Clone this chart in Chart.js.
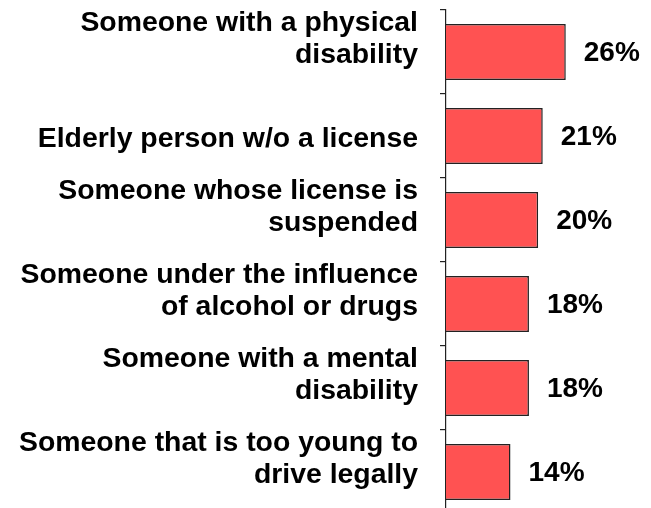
<!DOCTYPE html>
<html>
<head>
<meta charset="utf-8">
<script src="https://cdn.jsdelivr.net/npm/chart.js@4"></script>
<style>
  html, body { margin: 0; padding: 0; background: #fff; overflow: hidden; }
  #wrap { width: 651px; height: 516px; }
</style>
</head>
<body>
<div id="wrap"><canvas id="groupChart" width="651" height="516"></canvas></div>
<script>
const categories = [
    ['Someone with a physical', 'disability'],
    'Elderly person w/o a license',
    ['Someone whose license is', 'suspended'],
    ['Someone under the influence', 'of alcohol or drugs'],
    ['Someone with a mental', 'disability'],
    ['Someone that is too young to', 'drive legally']
];
const percentages = [26, 21, 20, 18, 18, 14];

const fontFamily = '"Liberation Sans", Arial, sans-serif';

// two-line labels sit a bit above the bar centre in the original,
// a blank third line pushes them up
const axisLabels = categories.map(c => Array.isArray(c) ? c.concat(['']) : c);

// draws the "26%" style labels to the right of each bar
const valueLabels = {
    id: 'valueLabels',
    afterDatasetsDraw(chart) {
        const ctx = chart.ctx;
        const meta = chart.getDatasetMeta(0);
        ctx.save();
        ctx.font = 'bold 28px ' + fontFamily;
        ctx.fillStyle = '#000';
        ctx.textAlign = 'left';
        ctx.textBaseline = 'middle';
        meta.data.forEach((bar, i) => {
            ctx.fillText(percentages[i] + '%', bar.x + 18, bar.y + 1);
        });
        ctx.restore();
    }
};

const groupChart = new Chart(document.getElementById('groupChart'), {
    type: 'bar',
    data: {
        labels: axisLabels,
        datasets: [{
            data: percentages,
            backgroundColor: '#ff5252',
            borderColor: '#222',
            borderWidth: 1.5,
            barPercentage: 0.665,
            categoryPercentage: 1
        }]
    },
    options: {
        indexAxis: 'y',
        responsive: false,
        animation: false,
        devicePixelRatio: 1,
        layout: { padding: { top: 10, bottom: 2, left: 0, right: 0 } },
        plugins: {
            legend: { display: false },
            tooltip: { enabled: false }
        },
        scales: {
            x: {
                display: false,
                min: 0,
                max: 44.5
            },
            y: {
                afterFit(scale) {
                    scale.width = 446;
                    scale.paddingTop = 0;
                    scale.paddingBottom = 0;
                },
                border: { display: true, color: '#222', width: 1.2 },
                grid: {
                    drawOnChartArea: false,
                    drawTicks: true,
                    tickLength: 6,
                    color: '#222',
                    lineWidth: 1.2
                },
                ticks: {
                    autoSkip: false,
                    padding: 22,
                    labelOffset: 3,
                    color: '#000',
                    font: { family: fontFamily, size: 28.4, weight: 'bold', lineHeight: 1.13 }
                }
            }
        }
    },
    plugins: [valueLabels]
});
</script>
</body>
</html>
